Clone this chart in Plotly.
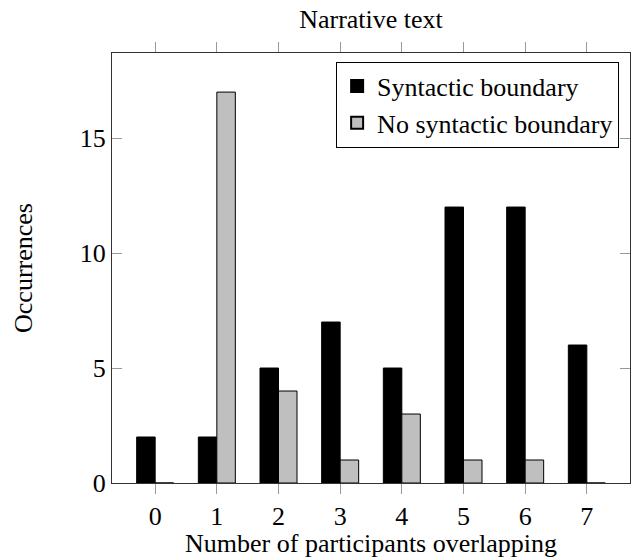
import plotly.graph_objects as go

categories = [0, 1, 2, 3, 4, 5, 6, 7]
syntactic = [2, 2, 5, 7, 5, 12, 12, 6]
no_syntactic = [0, 17, 4, 1, 3, 1, 1, 0]
y_ticks = [0, 5, 10, 15]

FONT = "Liberation Serif"
W, H = 634, 558

fig = go.Figure()
fig.add_trace(go.Bar(
    x=categories, y=syntactic, name="Syntactic boundary",
    marker=dict(color="#000000", line=dict(color="#000000", width=1)),
))
fig.add_trace(go.Bar(
    x=categories, y=no_syntactic, name="No syntactic boundary",
    marker=dict(color="#bfbfbf", line=dict(color="#000000", width=1)),
))

fig.update_layout(
    width=W, height=H,
    margin=dict(l=112, r=4, t=53, b=75),
    paper_bgcolor="white", plot_bgcolor="white",
    barmode="group", bargap=0.4, bargroupgap=0,
    font=dict(family=FONT, size=26, color="#000000"),
    title=dict(text="Narrative text", x=0.5, xref="paper", xanchor="center",
               y=1 - 19 / H, yanchor="middle", yref="container",
               font=dict(family=FONT, size=26, color="#000000")),
    legend=dict(
        x=0.979, xanchor="right", y=0.98, yanchor="top",
        bordercolor="#000000", borderwidth=1, bgcolor="white",
        font=dict(family=FONT, size=26, color="#000000"),
        tracegroupgap=0, itemsizing="constant",
    ),
    showlegend=True,
)

fig.update_xaxes(
    range=[-0.7, 7.7], tickvals=categories, ticktext=[str(c) for c in categories],
    ticks="outside", ticklen=10, tickcolor="#999999", tickwidth=1,
    showline=True, linecolor="#333333", linewidth=1, mirror="allticks",
    showgrid=False, zeroline=False,
    title=dict(text="Number of participants overlapping", standoff=4,
               font=dict(family=FONT, size=26, color="#000000")),
    tickfont=dict(family=FONT, size=26, color="#000000"),
)
fig.update_yaxes(
    range=[0, 18.7], tickvals=y_ticks, ticktext=[str(t) for t in y_ticks],
    ticks="inside", ticklen=10, tickcolor="#999999", tickwidth=1,
    showline=True, linecolor="#333333", linewidth=1, mirror="allticks",
    showgrid=False, zeroline=False,
    ticklabelstandoff=0,
    title=dict(text="Occurrences", standoff=39,
               font=dict(family=FONT, size=26, color="#000000")),
    tickfont=dict(family=FONT, size=26, color="#000000"),
)

fig.write_html("out.html", config={"displayModeBar": False},
               post_script="document.body.style.margin='0';")
